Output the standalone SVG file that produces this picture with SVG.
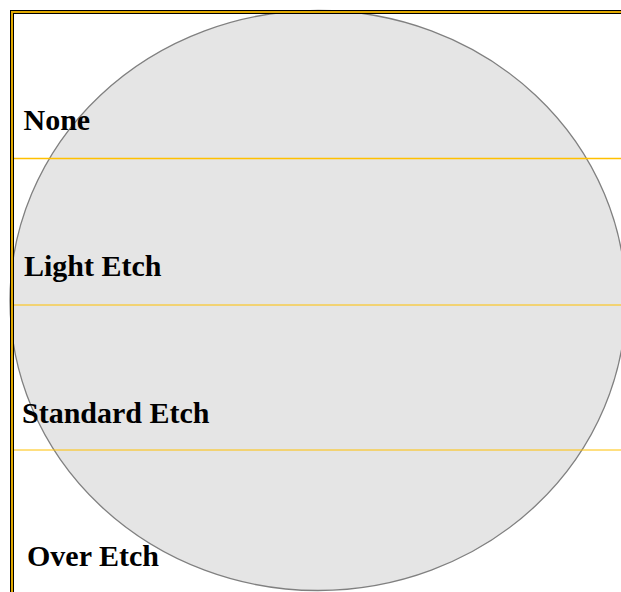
<svg xmlns="http://www.w3.org/2000/svg" width="621" height="592" viewBox="0 0 621 592">
<style>
.lbl{font-family:"Liberation Serif","Times New Roman",serif;font-weight:bold;font-size:30px;fill:#000}
.band{stroke:#FFC000;fill:none}
</style>
<rect x="0" y="0" width="621" height="592" fill="#fff"/>
<g id="wafer">
<ellipse cx="318" cy="300.5" rx="308" ry="290" fill="#E5E5E5" stroke="#808080" stroke-width="1.3"/>
</g>
<g id="bands">
<line class="band" x1="12" y1="158.5" x2="621" y2="158.5" stroke-width="1.5"/>
<line class="band" x1="12" y1="305" x2="621" y2="305" stroke-width="1"/>
<line class="band" x1="12" y1="450" x2="621" y2="450" stroke-width="1"/>
</g>
<g id="frame">
<path d="M12 600 V12 H630" fill="none" stroke="#000" stroke-width="4"/>
<path d="M12 600 V12 H630" fill="none" stroke="#E0A800" stroke-width="2"/>
</g>
<g id="none"><text class="lbl" x="23.5" y="130">None</text></g>
<g id="light"><text class="lbl" x="24" y="276">Light Etch</text></g>
<g id="standard"><text class="lbl" x="22" y="422.5">Standard Etch</text></g>
<g id="over"><text class="lbl" x="27" y="566">Over Etch</text></g>
</svg>
